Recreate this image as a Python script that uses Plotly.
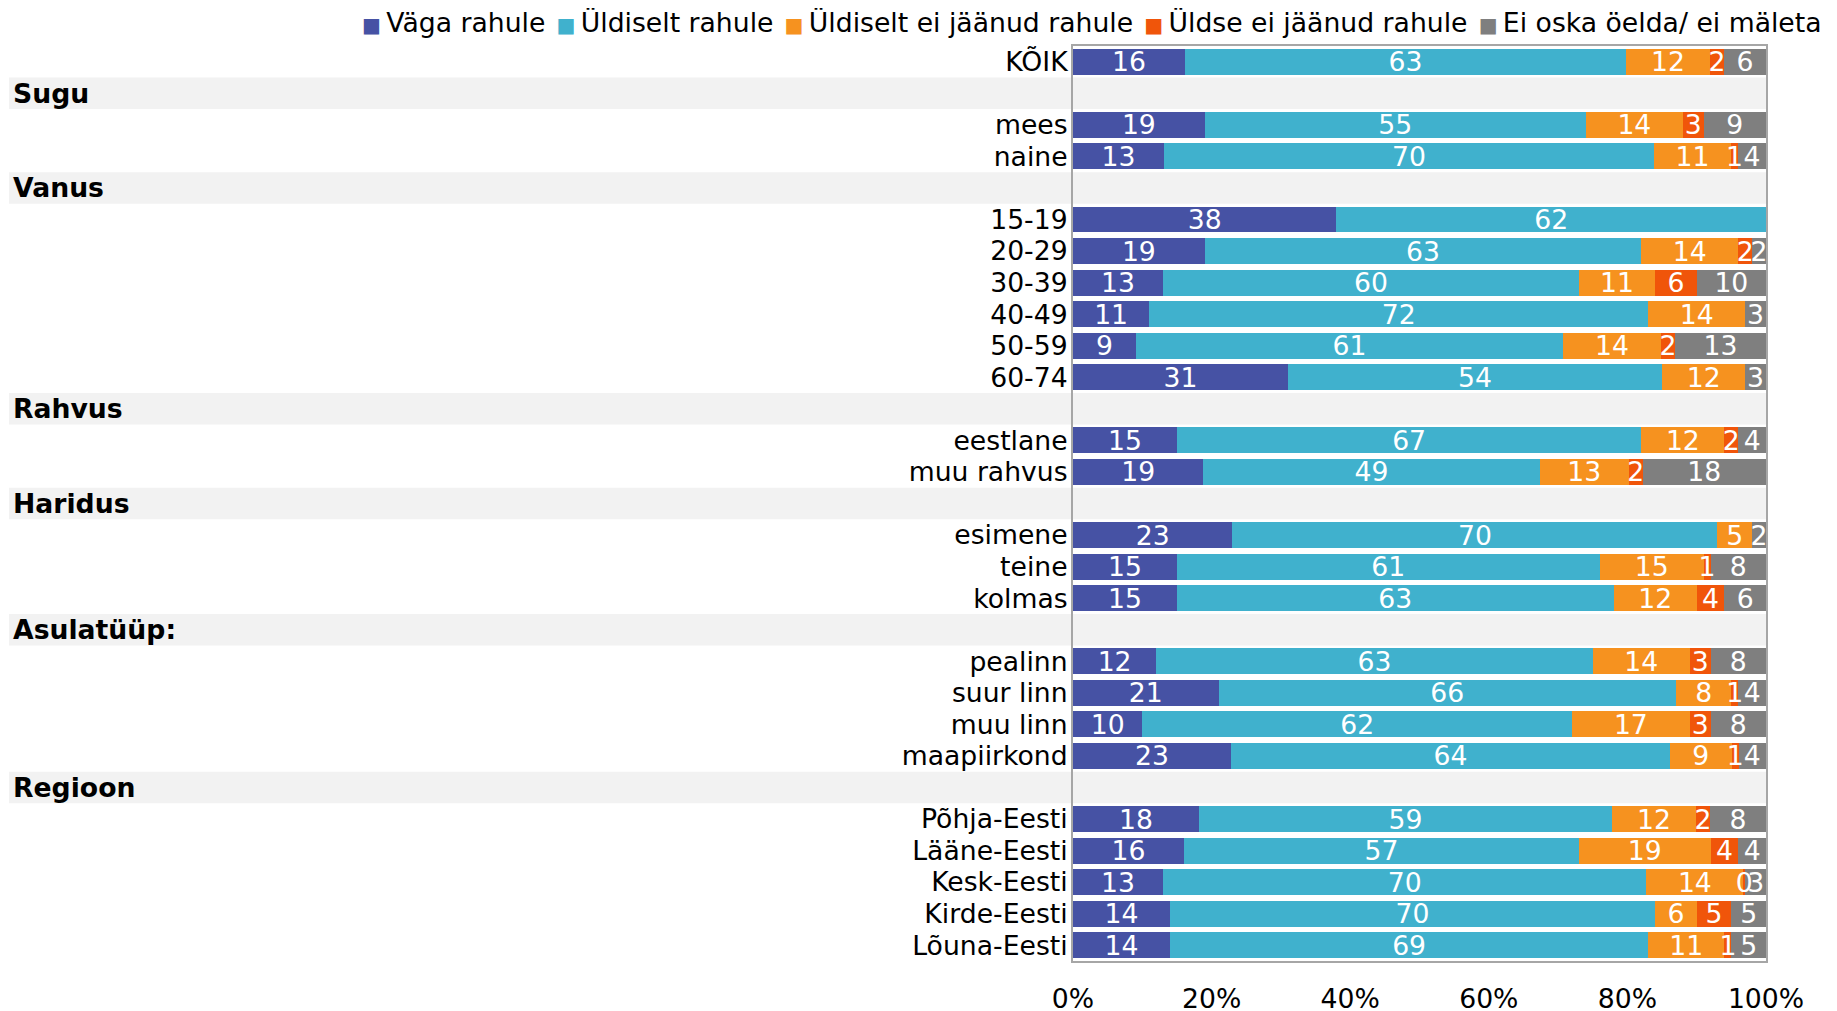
import plotly.graph_objects as go

# Row layout (top to bottom). Header rows (prefixed with #) have no bars.
rows = ["KÕIK", "#Sugu", "mees", "naine", "#Vanus", "15-19", "20-29", "30-39",
        "40-49", "50-59", "60-74", "#Rahvus", "eestlane", "muu rahvus",
        "#Haridus", "esimene", "teine", "kolmas", "#Asulatüüp:", "pealinn",
        "suur linn", "muu linn", "maapiirkond", "#Regioon", "Põhja-Eesti",
        "Lääne-Eesti", "Kesk-Eesti", "Kirde-Eesti", "Lõuna-Eesti"]

series_names = ["Väga rahule", "Üldiselt rahule", "Üldiselt ei jäänud rahule",
                "Üldse ei jäänud rahule", "Ei oska öelda/ ei mäleta"]
colors = ["#4652a4", "#40b1cd", "#f6921f", "#f0550a", "#7f7f7f"]

# values for data rows, in the order of non-header rows
vaga = [16, 19, 13, 38, 19, 13, 11, 9, 31, 15, 19, 23, 15, 15, 12, 21, 10, 23, 18, 16, 13, 14, 14]
uldiselt = [63, 55, 70, 62, 63, 60, 72, 61, 54, 67, 49, 70, 61, 63, 63, 66, 62, 64, 59, 57, 70, 70, 69]
ei_jaanud = [12, 14, 11, None, 14, 11, 14, 14, 12, 12, 13, 5, 15, 12, 14, 8, 17, 9, 12, 19, 14, 6, 11]
uldse_ei = [2, 3, 1, None, 2, 6, None, 2, None, 2, 2, None, 1, 4, 3, 1, 3, 1, 2, 4, 0.3, 5, 1]
ei_oska = [6, 9, 4, None, 2, 10, 3, 13, 3, 4, 18, 2, 8, 6, 8, 4, 8, 4, 8, 4, 3, 5, 5]

series_values = [vaga, uldiselt, ei_jaanud, uldse_ei, ei_oska]

x_ticks = [0, 20, 40, 60, 80, 100]
x_ticktext = ["0%", "20%", "40%", "60%", "80%", "100%"]

FONT = "DejaVu Sans, Verdana, sans-serif"
FS = 26.67

data_rows = [i for i, r in enumerate(rows) if not r.startswith("#")]
header_rows = [(i, r[1:]) for i, r in enumerate(rows) if r.startswith("#")]

fig = go.Figure()
# coloured bars
for name, col, vals in zip(series_names, colors, series_values):
    fig.add_trace(go.Bar(
        y=data_rows, x=vals, orientation="h", name=name,
        marker=dict(color=col, line=dict(width=0)),
        textposition="none", hoverinfo="skip", showlegend=False,
    ))
# same stacks on an overlaid axis, transparent, carrying the value labels
# so that every label is drawn above all bars
for name, vals in zip(series_names, series_values):
    fig.add_trace(go.Bar(
        y=data_rows, x=vals, orientation="h", name=name, yaxis="y2",
        marker=dict(color="rgba(0,0,0,0)", line=dict(width=0)),
        text=["" if v is None else str(int(round(v))) for v in vals],
        textposition="inside", insidetextanchor="middle", textangle=0,
        constraintext="none",
        textfont=dict(family=FONT, size=FS, color="white"),
        hoverinfo="skip", showlegend=False,
    ))

W, H = 1837, 1011
L, R, T, B = 1065, 79, 38, 58
pw = W - L - R
ph = H - T - B

shapes = []
annotations = []
for i, name in header_rows:
    shapes.append(dict(type="rect", xref="paper", yref="y",
                       x0=(1 - L) / pw, x1=1, y0=i - 0.5, y1=i + 0.5,
                       fillcolor="#f2f2f2", line=dict(width=0), layer="below"))
    annotations.append(dict(xref="paper", yref="y", x=(3 - L) / pw, y=i,
                            xanchor="left", yanchor="middle", showarrow=False,
                            text="<b>" + name + "</b>",
                            font=dict(family=FONT, size=FS, color="black")))

# legend as one line of coloured squares followed by series names
legend_parts = []
for name, col in zip(series_names, colors):
    legend_parts.append('<span style="color:%s;font-size:20px">■</span>\u2009%s' % (col, name))
annotations.append(dict(xref="paper", yref="paper", x=(1816 - L) / pw,
                        y=(H - B - 14) / ph, xanchor="right", yanchor="middle",
                        showarrow=False, text="\u00a0\u200a".join(legend_parts),
                        font=dict(family=FONT, size=FS, color="black")))

fig.update_layout(
    width=W, height=H,
    margin=dict(l=L, r=R, t=T, b=B, autoexpand=False),
    barmode="stack", barnorm="percent", bargap=0.18,
    plot_bgcolor="white", paper_bgcolor="white",
    font=dict(family=FONT, size=FS, color="black"),
    showlegend=False,
    uniformtext=dict(minsize=FS, mode="show"),
    shapes=shapes, annotations=annotations,
    yaxis2=dict(overlaying="y", range=[len(rows) - 0.5, -0.5], visible=False,
                showgrid=False, zeroline=False),
)
fig.update_xaxes(range=[0, 100], tickvals=x_ticks, ticktext=x_ticktext,
                 showgrid=False, zeroline=False, showline=True, mirror=True,
                 linecolor="#a6a6a6", linewidth=2, ticks="", automargin=False,
                 ticklabelstandoff=13,
                 tickfont=dict(family=FONT, size=FS, color="black"))
fig.update_layout(yaxis=dict(range=[len(rows) - 0.5, -0.5], tickvals=data_rows,
                             ticktext=[rows[i] for i in data_rows], automargin=False,
                             showgrid=False, zeroline=False, showline=True, mirror=True,
                             linecolor="#a6a6a6", linewidth=2, ticks="",
                             ticklabelstandoff=-2,
                             tickfont=dict(family=FONT, size=FS, color="black")))

fig.write_html("out.html")
